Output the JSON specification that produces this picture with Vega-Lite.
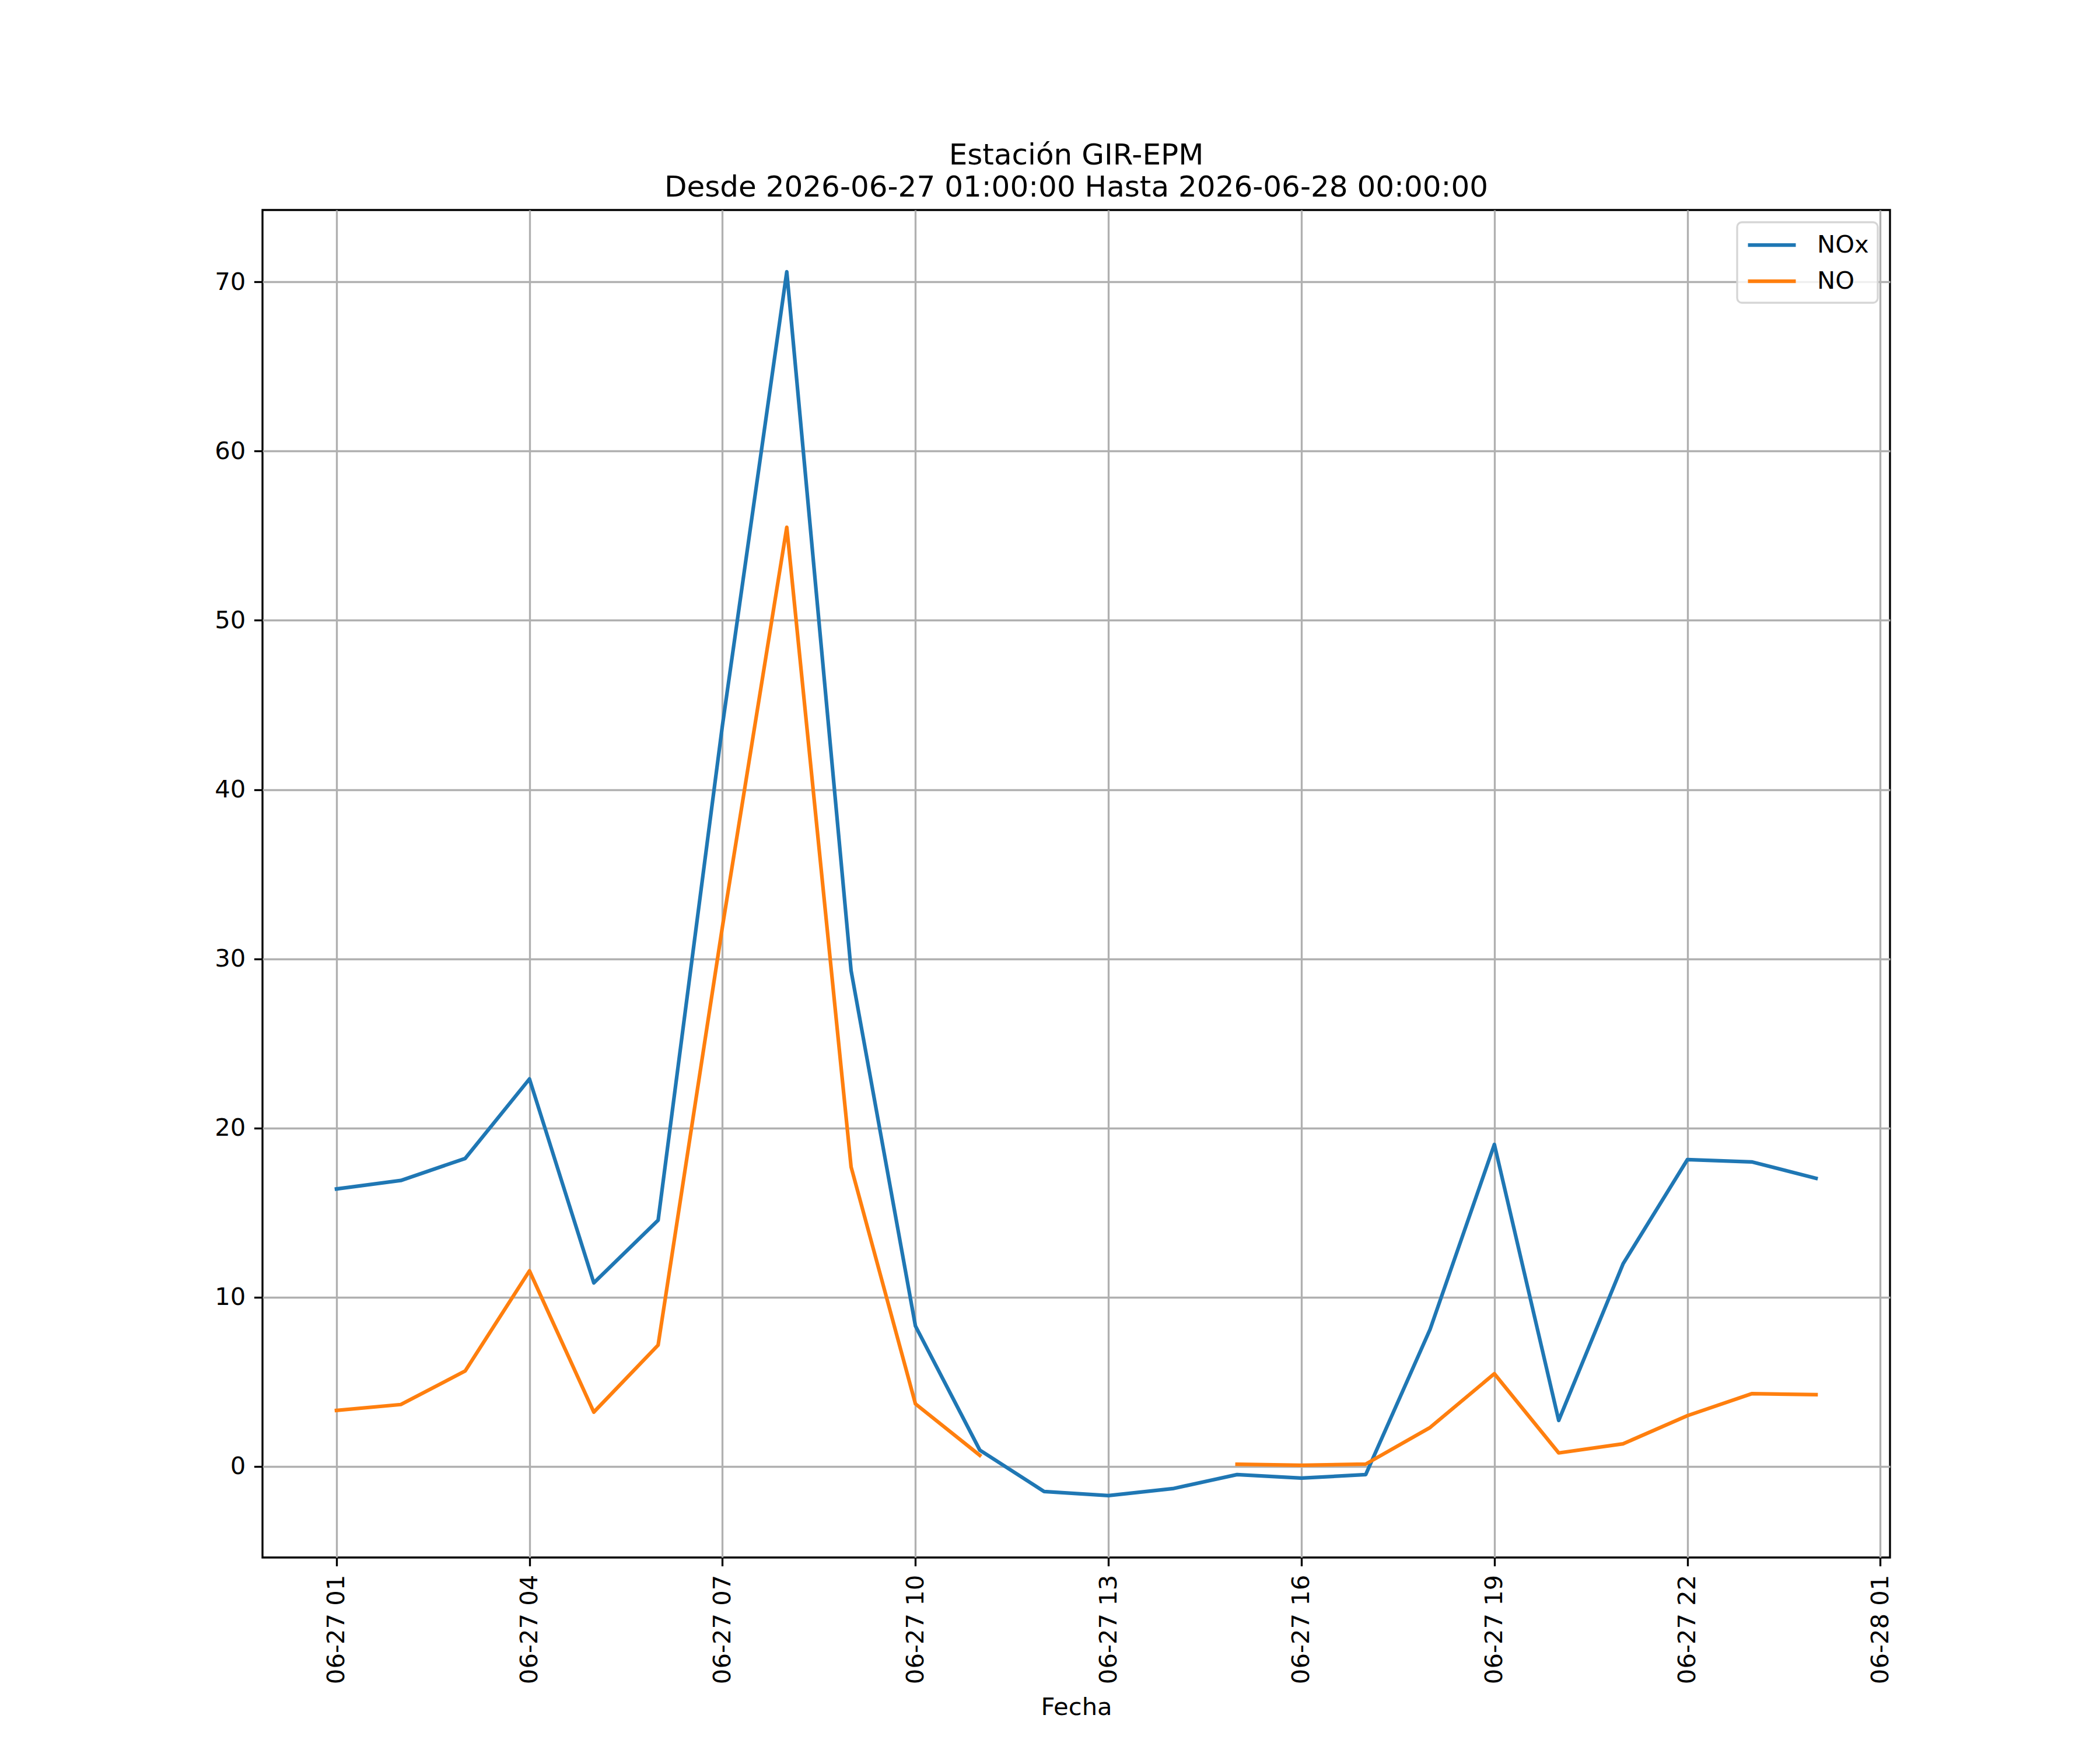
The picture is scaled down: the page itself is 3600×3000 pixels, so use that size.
{
  "$schema": "https://vega.github.io/schema/vega-lite/v6.json",
  "autosize": {"type": "none"},
  "padding": {"left": 450, "top": 360, "right": 360, "bottom": 330},
  "width": 2790,
  "height": 2310,
  "background": "white",
  "title": {
    "text": ["Estación GIR-EPM", "Desde 2026-06-27 01:00:00 Hasta 2026-06-28 00:00:00"],
    "font": "DejaVu Sans",
    "fontSize": 50,
    "fontWeight": "normal",
    "color": "black",
    "anchor": "middle",
    "frame": "group",
    "baseline": "alphabetic",
    "lineHeight": 55,
    "offset": -27
  },
  "data": {
    "values": [
      {"fecha": "2026-06-27 01:00", "serie": "NOx", "valor": 16.4},
      {"fecha": "2026-06-27 02:00", "serie": "NOx", "valor": 16.9},
      {"fecha": "2026-06-27 03:00", "serie": "NOx", "valor": 18.2},
      {"fecha": "2026-06-27 04:00", "serie": "NOx", "valor": 22.9},
      {"fecha": "2026-06-27 05:00", "serie": "NOx", "valor": 10.85},
      {"fecha": "2026-06-27 06:00", "serie": "NOx", "valor": 14.55},
      {"fecha": "2026-06-27 07:00", "serie": "NOx", "valor": 43.8},
      {"fecha": "2026-06-27 08:00", "serie": "NOx", "valor": 70.6},
      {"fecha": "2026-06-27 09:00", "serie": "NOx", "valor": 29.3},
      {"fecha": "2026-06-27 10:00", "serie": "NOx", "valor": 8.3},
      {"fecha": "2026-06-27 11:00", "serie": "NOx", "valor": 0.97},
      {"fecha": "2026-06-27 12:00", "serie": "NOx", "valor": -1.48},
      {"fecha": "2026-06-27 13:00", "serie": "NOx", "valor": -1.72},
      {"fecha": "2026-06-27 14:00", "serie": "NOx", "valor": -1.31},
      {"fecha": "2026-06-27 15:00", "serie": "NOx", "valor": -0.48},
      {"fecha": "2026-06-27 16:00", "serie": "NOx", "valor": -0.69},
      {"fecha": "2026-06-27 17:00", "serie": "NOx", "valor": -0.48},
      {"fecha": "2026-06-27 18:00", "serie": "NOx", "valor": 8.1},
      {"fecha": "2026-06-27 19:00", "serie": "NOx", "valor": 19.03},
      {"fecha": "2026-06-27 20:00", "serie": "NOx", "valor": 2.72},
      {"fecha": "2026-06-27 21:00", "serie": "NOx", "valor": 11.97},
      {"fecha": "2026-06-27 22:00", "serie": "NOx", "valor": 18.13},
      {"fecha": "2026-06-27 23:00", "serie": "NOx", "valor": 18.0},
      {"fecha": "2026-06-28 00:00", "serie": "NOx", "valor": 17.03},
      {"fecha": "2026-06-27 01:00", "serie": "NO", "valor": 3.31},
      {"fecha": "2026-06-27 02:00", "serie": "NO", "valor": 3.66},
      {"fecha": "2026-06-27 03:00", "serie": "NO", "valor": 5.64},
      {"fecha": "2026-06-27 04:00", "serie": "NO", "valor": 11.56},
      {"fecha": "2026-06-27 05:00", "serie": "NO", "valor": 3.21},
      {"fecha": "2026-06-27 06:00", "serie": "NO", "valor": 7.17},
      {"fecha": "2026-06-27 07:00", "serie": "NO", "valor": 31.9},
      {"fecha": "2026-06-27 08:00", "serie": "NO", "valor": 55.5},
      {"fecha": "2026-06-27 09:00", "serie": "NO", "valor": 17.7},
      {"fecha": "2026-06-27 10:00", "serie": "NO", "valor": 3.7},
      {"fecha": "2026-06-27 11:00", "serie": "NO", "valor": 0.66},
      {"fecha": "2026-06-27 12:00", "serie": "NO", "valor": null},
      {"fecha": "2026-06-27 13:00", "serie": "NO", "valor": null},
      {"fecha": "2026-06-27 14:00", "serie": "NO", "valor": null},
      {"fecha": "2026-06-27 15:00", "serie": "NO", "valor": 0.13},
      {"fecha": "2026-06-27 16:00", "serie": "NO", "valor": 0.07},
      {"fecha": "2026-06-27 17:00", "serie": "NO", "valor": 0.14},
      {"fecha": "2026-06-27 18:00", "serie": "NO", "valor": 2.3},
      {"fecha": "2026-06-27 19:00", "serie": "NO", "valor": 5.48},
      {"fecha": "2026-06-27 20:00", "serie": "NO", "valor": 0.8},
      {"fecha": "2026-06-27 21:00", "serie": "NO", "valor": 1.34},
      {"fecha": "2026-06-27 22:00", "serie": "NO", "valor": 3.0},
      {"fecha": "2026-06-27 23:00", "serie": "NO", "valor": 4.3},
      {"fecha": "2026-06-28 00:00", "serie": "NO", "valor": 4.24}
    ]
  },
  "mark": {
    "type": "line",
    "strokeWidth": 6.25,
    "strokeCap": "square",
    "strokeJoin": "round",
    "invalid": "break-paths-show-domains"
  },
  "encoding": {
    "x": {
      "field": "fecha",
      "type": "temporal",
      "title": "Fecha",
      "scale": {
        "domain": [
          {"year": 2026, "month": 6, "date": 26, "hours": 23, "minutes": 51},
          {"year": 2026, "month": 6, "date": 28, "hours": 1, "minutes": 9}
        ],
        "nice": false
      },
      "axis": {
        "values": [
          {"year": 2026, "month": 6, "date": 27, "hours": 1},
          {"year": 2026, "month": 6, "date": 27, "hours": 4},
          {"year": 2026, "month": 6, "date": 27, "hours": 7},
          {"year": 2026, "month": 6, "date": 27, "hours": 10},
          {"year": 2026, "month": 6, "date": 27, "hours": 13},
          {"year": 2026, "month": 6, "date": 27, "hours": 16},
          {"year": 2026, "month": 6, "date": 27, "hours": 19},
          {"year": 2026, "month": 6, "date": 27, "hours": 22},
          {"year": 2026, "month": 6, "date": 28, "hours": 1}
        ],
        "format": "%m-%d %H",
        "labelAngle": 270,
        "labelOverlap": false,
        "labelFlush": false,
        "labelLimit": 0,
        "titlePadding": 36
      }
    },
    "y": {
      "field": "valor",
      "type": "quantitative",
      "title": null,
      "scale": {"domain": [-5.38, 74.25], "nice": false, "zero": false},
      "axis": {
        "values": [0, 10, 20, 30, 40, 50, 60, 70],
        "format": "d"
      }
    },
    "color": {
      "field": "serie",
      "type": "nominal",
      "scale": {"domain": ["NOx", "NO"], "range": ["#1f77b4", "#ff7f0e"]},
      "legend": {"title": null}
    }
  },
  "config": {
    "view": {"stroke": "black", "strokeWidth": 3.33},
    "axis": {
      "domain": false,
      "grid": true,
      "gridColor": "#b0b0b0",
      "gridWidth": 3.33,
      "gridOpacity": 1,
      "ticks": true,
      "tickColor": "black",
      "tickWidth": 3.33,
      "tickSize": 14.6,
      "labelPadding": 14.6,
      "labelFont": "DejaVu Sans",
      "labelFontSize": 41.7,
      "labelColor": "black",
      "titleFont": "DejaVu Sans",
      "titleFontSize": 41.7,
      "titleFontWeight": "normal",
      "titleColor": "black"
    },
    "legend": {
      "orient": "top-right",
      "offset": 21,
      "padding": 15,
      "strokeColor": "#d6d6d6",
      "strokeWidth": 3.3,
      "cornerRadius": 8,
      "fillColor": "rgba(255,255,255,0.8)",
      "labelFont": "DejaVu Sans",
      "labelFontSize": 41.7,
      "labelColor": "black",
      "symbolType": "M-1,0H3",
      "symbolSize": 1681,
      "symbolStrokeWidth": 6.25,
      "labelOffset": 74,
      "rowPadding": 16
    }
  }
}
